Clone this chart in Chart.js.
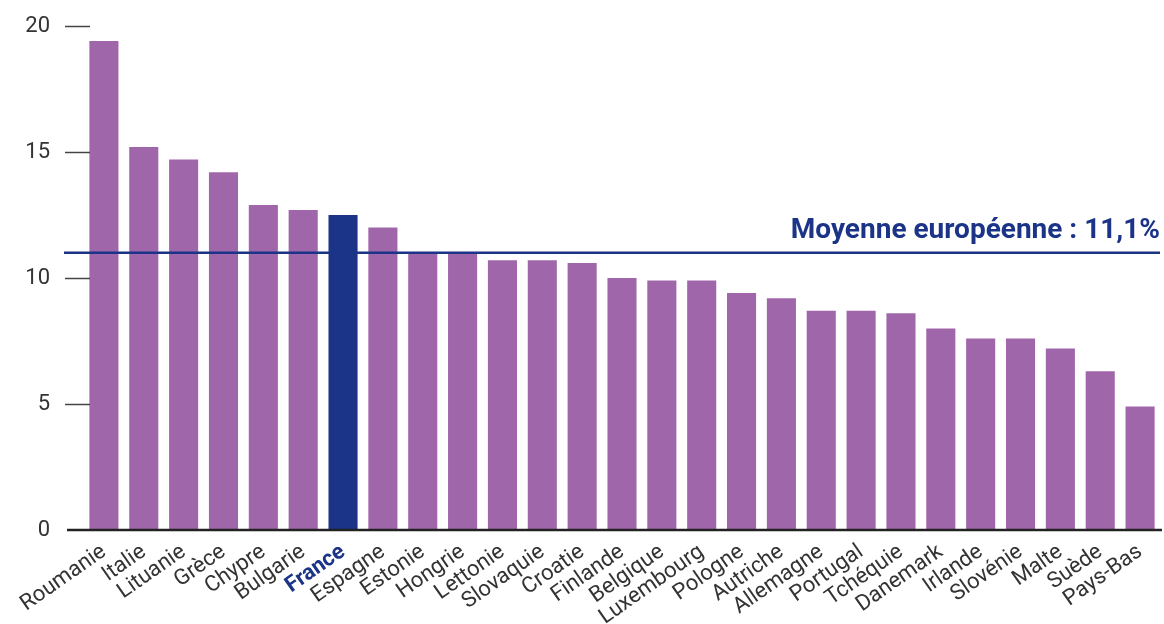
<!DOCTYPE html>
<html>
<head>
<meta charset="utf-8">
<script src="https://cdn.jsdelivr.net/npm/chart.js@4.4.1/dist/chart.umd.min.js"></script>
<style>
  html,body{margin:0;padding:0;background:#fff;}
  #wrap{width:1164px;height:624px;position:relative;}
</style>
</head>
<body>
<div id="wrap"><canvas id="c"></canvas></div>
<script>
'use strict';
// ── DATA ──────────────────────────────────────────────────────
const countries = ['Roumanie','Italie','Lituanie','Grèce','Chypre','Bulgarie','France','Espagne','Estonie','Hongrie',
  'Lettonie','Slovaquie','Croatie','Finlande','Belgique','Luxembourg','Pologne','Autriche','Allemagne','Portugal',
  'Tchéquie','Danemark','Irlande','Slovénie','Malte','Suède','Pays-Bas'];
const values = [19.4,15.2,14.7,14.2,12.9,12.7,12.5,12.0,11.0,11.0,
  10.7,10.7,10.6,10.0,9.9,9.9,9.4,9.2,8.7,8.7,
  8.6,8.0,7.6,7.6,7.2,6.3,4.9];
const yTicks = [0,5,10,15,20];
const highlight = 'France';
const meanValue = 11.0;
const meanLabel = 'Moyenne européenne : 11,1%';

// ── STYLE ─────────────────────────────────────────────────────
const PURPLE = '#a066aa';
const BLUE = '#1b3487';
const TXT = '#333333';
const FONT = 'Roboto, "Liberation Sans", sans-serif';

// extra lines: y tick marks, baseline, mean line + label
const decor = {
  id:'decor',
  afterDatasetsDraw(chart){
    const {ctx, chartArea:a, scales:{y}} = chart;
    ctx.save();
    // tick marks
    ctx.strokeStyle = '#444'; ctx.lineWidth = 1.5;
    yTicks.forEach(v => {
      if (v === 0) return;
      const py = Math.round(y.getPixelForValue(v)) + 0.5;
      ctx.beginPath(); ctx.moveTo(65, py); ctx.lineTo(90, py); ctx.stroke();
    });
    // baseline
    const y0 = y.getPixelForValue(0);
    ctx.strokeStyle = '#222'; ctx.lineWidth = 2.5;
    ctx.beginPath(); ctx.moveTo(67, y0); ctx.lineTo(a.right + 2, y0); ctx.stroke();
    // mean line
    const ym = y.getPixelForValue(meanValue);
    ctx.strokeStyle = BLUE; ctx.lineWidth = 2.5;
    ctx.beginPath(); ctx.moveTo(64, ym); ctx.lineTo(a.right, ym); ctx.stroke();
    ctx.fillStyle = BLUE;
    ctx.font = 'bold 28px ' + FONT;
    ctx.textAlign = 'right'; ctx.textBaseline = 'alphabetic';
    ctx.fillText(meanLabel, a.right, ym - 15);
    ctx.restore();
  }
};

const noPad = s => { s.paddingTop = 0; s.paddingBottom = 0; };

new Chart(document.getElementById('c'), {
  type:'bar',
  data:{
    labels: countries,
    datasets:[{
      data: values,
      backgroundColor: countries.map(c => c === highlight ? BLUE : PURPLE),
      barPercentage: 0.73,
      categoryPercentage: 1
    }]
  },
  options:{
    responsive:true,
    maintainAspectRatio:false,
    animation:false,
    layout:{ padding:{ top:26, right:4, left:0, bottom:0 } },
    plugins:{ legend:{display:false}, tooltip:{enabled:false} },
    scales:{
      x:{
        grid:{ display:false },
        border:{ display:false },
        ticks:{
          autoSkip:false,
          minRotation:35, maxRotation:35,
          padding:1,
          color: c => countries[c.index] === highlight ? BLUE : TXT,
          font: c => ({ family:FONT, size:22, weight: countries[c.index] === highlight ? 'bold' : 'normal' })
        },
        afterFit: s => { s.height = 94; noPad(s); }
      },
      y:{
        min:0, max:20,
        grid:{ display:false },
        border:{ display:false },
        afterBuildTicks: s => { s.ticks = yTicks.map(v => ({value:v})); },
        ticks:{ color:TXT, padding:26, font:{ family:FONT, size:22 } },
        afterFit: s => { s.width = 84; noPad(s); }
      }
    }
  },
  plugins:[decor]
});
</script>
</body>
</html>
